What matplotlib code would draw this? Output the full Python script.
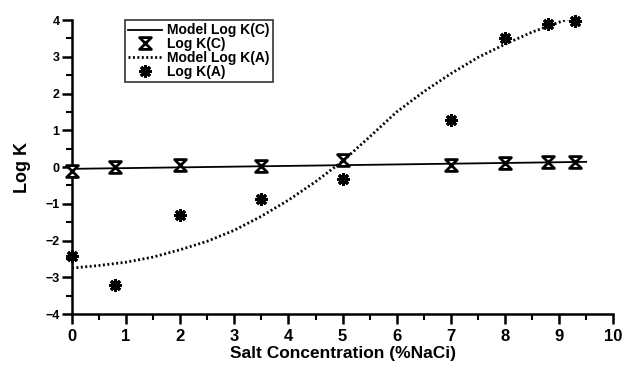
import matplotlib
matplotlib.use("Agg")
import matplotlib.pyplot as plt
from matplotlib.path import Path
from matplotlib.ticker import MultipleLocator

# Data
salt_obs = [0, 0.8, 2, 3.5, 5, 7, 8, 8.8, 9.3]
logk_c = [-0.12, 0.0, 0.05, 0.03, 0.2, 0.06, 0.12, 0.13, 0.14]
logk_a = [-2.43, -3.2, -1.31, -0.88, -0.34, 1.28, 3.52, 3.9, 3.98]

model_c_x = [0, 2, 4, 6, 8, 9.5]
model_c_y = [-0.05, -0.01, 0.03, 0.07, 0.11, 0.14]

model_a_x = [0, 0.5, 1, 1.5, 2, 2.5, 3, 3.5, 4, 4.5, 5, 5.5, 6, 6.5, 7, 7.5, 8, 8.5, 9, 9.5]
model_a_y = [-2.75, -2.68, -2.59, -2.45, -2.25, -2.02, -1.72, -1.34, -0.90, -0.40,
             0.16, 0.82, 1.50, 2.05, 2.54, 2.98, 3.34, 3.67, 3.94, 4.20]

x_ticks = [0, 1, 2, 3, 4, 5, 6, 7, 8, 9, 10]
y_ticks = [-4, -3, -2, -1, 0, 1, 2, 3, 4]

plt.rcParams['font.family'] = ['Liberation Sans', 'DejaVu Sans']

fig = plt.figure(figsize=(6.27, 3.67), dpi=100)
ax = fig.add_axes([0.1148, 0.1444, 0.8632, 0.8011])

hourglass = Path([(-1, 1), (1, 1), (-1, -1), (1, -1), (-1, 1)],
                 [Path.MOVETO, Path.LINETO, Path.LINETO, Path.LINETO, Path.CLOSEPOLY])

ax.plot(model_c_x, model_c_y, color='black', lw=1.3, label='Model Log K(C)')
ax.plot(salt_obs, logk_c, linestyle='none', marker=hourglass, markersize=8.5,
        markerfacecolor='white', markeredgecolor='black', markeredgewidth=2.0,
        label='Log K(C)', clip_on=False, zorder=4)
ax.plot(model_a_x, model_a_y, color='black', lw=2.0, linestyle=(0, (0.7, 0.9)),
        label='Model Log K(A)')
ax.plot(salt_obs, logk_a, linestyle='none', marker=(8, 2, 0), markersize=9,
        markeredgecolor='black', markeredgewidth=2.2, label='Log K(A)',
        clip_on=False, zorder=4)

ax.set_xlim(0, 10)
ax.set_ylim(-4, 4)
ax.set_xticks(x_ticks)
ax.set_yticks(y_ticks)
ax.xaxis.set_minor_locator(MultipleLocator(0.5))
ax.yaxis.set_minor_locator(MultipleLocator(0.5))

for s in ['top', 'right']:
    ax.spines[s].set_visible(False)
for s in ['left', 'bottom']:
    ax.spines[s].set_linewidth(1.8)

ax.tick_params(axis='both', which='major', direction='out', length=7, width=1.8)
ax.tick_params(axis='both', which='minor', direction='out', length=4, width=1.5)
ax.tick_params(axis='x', which='major', labelsize=12, pad=4)
ax.tick_params(axis='y', which='major', labelsize=9, pad=2)
for lab in ax.get_xticklabels() + ax.get_yticklabels():
    lab.set_fontweight('bold')

ax.set_xlabel('Salt Concentration (%NaCi)', fontsize=12.5, fontweight='bold', labelpad=1)
ax.set_ylabel('Log K', fontsize=13, fontweight='bold', labelpad=10)

leg = ax.legend(loc='upper left', bbox_to_anchor=(0.098, 1.0),
                prop={'weight': 'bold', 'size': 10}, frameon=True, fancybox=False,
                labelspacing=-0.02, handlelength=2.4, handletextpad=0.4,
                borderpad=0.25, borderaxespad=0.0)
leg.get_frame().set_edgecolor('black')
leg.get_frame().set_linewidth(1.2)

fig.savefig('out.png', dpi=100)
